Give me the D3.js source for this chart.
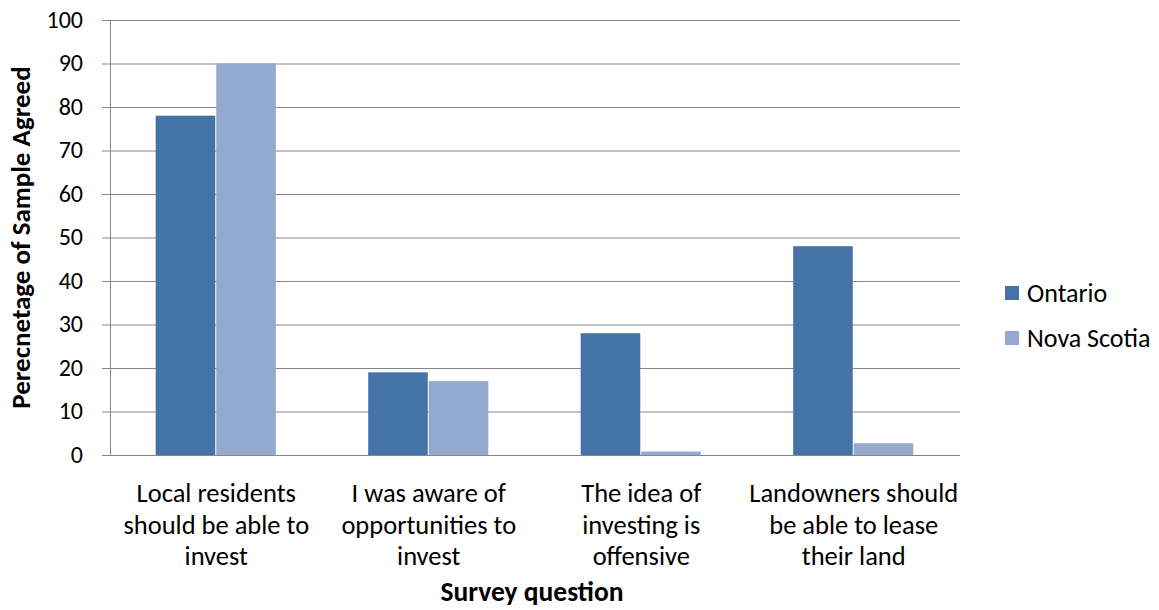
<!DOCTYPE html>
<html>
<head>
<meta charset="utf-8">
<script src="https://cdn.jsdelivr.net/npm/d3@7"></script>
<style>
  body { margin: 0; background: #fff; }
  svg { display: block; font-family: Carlito, Calibri, "Liberation Sans Narrow", "Open Sans", sans-serif; }
</style>
</head>
<body>
<svg id="chart" width="1159" height="610"></svg>
<script>
// Survey results: share of respondents agreeing, by province
const questions = [
  ["Local residents", "should be able to", "invest"],
  ["I was aware of", "opportunities to", "invest"],
  ["The idea of", "investing is", "offensive"],
  ["Landowners should", "be able to lease", "their land"]
];
const seriesNames = ["Ontario", "Nova Scotia"];
const ontario = [78, 19, 28, 48];
const novaScotia = [90, 17, 0.8, 2.7];
const yTicks = [0, 10, 20, 30, 40, 50, 60, 70, 80, 90, 100];
const colors = ["#4572A7", "#93A9CF"];

const svg = d3.select("#chart");
const plot = { left: 110, right: 960, top: 20, bottom: 455 };

const x0 = d3.scaleBand()
  .domain(d3.range(questions.length))
  .range([plot.left, plot.right])
  .paddingInner(0.43)
  .paddingOuter(0.215);
const x1 = d3.scaleBand()
  .domain(seriesNames)
  .range([0, x0.bandwidth()])
  .padding(0);
const y = d3.scaleLinear().domain([0, 100]).range([plot.bottom, plot.top]);

// horizontal gridlines
svg.append("g")
  .selectAll("line")
  .data(yTicks)
  .join("line")
  .attr("x1", plot.left - 8)
  .attr("x2", plot.right)
  .attr("y1", d => y(d) + 0.5)
  .attr("y2", d => y(d) + 0.5)
  .attr("stroke", "#868686")
  .attr("stroke-width", 1);

// y tick labels
svg.append("g")
  .selectAll("text")
  .data(yTicks)
  .join("text")
  .attr("x", plot.left - 27)
  .attr("y", d => y(d))
  .attr("dy", "0.33em")
  .attr("text-anchor", "end")
  .attr("font-size", 24)
  .attr("fill", "#000")
  .text(d => d);

// bars
const series = [ontario, novaScotia];
const groups = svg.append("g")
  .selectAll("g")
  .data(questions.map((q, i) => i))
  .join("g")
  .attr("transform", i => `translate(${x0(i)},0)`);
groups.selectAll("rect")
  .data(i => seriesNames.map((name, s) => ({ name, value: series[s][i], s })))
  .join("rect")
  .attr("x", d => x1(d.name))
  .attr("width", x1.bandwidth() - 1)
  .attr("y", d => y(d.value))
  .attr("height", d => y(0) - y(d.value))
  .attr("fill", d => colors[d.s]);

// y axis line
svg.append("line")
  .attr("x1", plot.left + 0.5).attr("x2", plot.left + 0.5)
  .attr("y1", plot.top).attr("y2", plot.bottom + 0.5)
  .attr("stroke", "#868686");
// baseline
svg.append("line")
  .attr("x1", plot.left - 8).attr("x2", plot.right)
  .attr("y1", plot.bottom + 0.5).attr("y2", plot.bottom + 0.5)
  .attr("stroke", "#868686");

// category labels
const cat = svg.append("g")
  .selectAll("text")
  .data(questions)
  .join("text")
  .attr("text-anchor", "middle")
  .attr("font-size", 26.5)
  .attr("fill", "#000")
  .attr("x", (d, i) => x0(i) + x0.bandwidth() / 2)
  .attr("y", 502);
cat.selectAll("tspan")
  .data(d => d)
  .join("tspan")
  .attr("x", function() { return d3.select(this.parentNode).attr("x"); })
  .attr("dy", (d, i) => i === 0 ? 0 : 31.5)
  .text(d => d);

// axis titles
svg.append("text")
  .attr("x", 532)
  .attr("y", 601)
  .attr("text-anchor", "middle")
  .attr("font-size", 27.5)
  .attr("font-weight", "bold")
  .text("Survey question");

svg.append("text")
  .attr("transform", `translate(30,${(plot.top + plot.bottom) / 2}) rotate(-90)`)
  .attr("text-anchor", "middle")
  .attr("font-size", 27)
  .attr("font-weight", "bold")
  .text("Perecnetage of Sample Agreed");

// legend
const legend = svg.append("g")
  .selectAll("g")
  .data(seriesNames)
  .join("g")
  .attr("transform", (d, i) => `translate(1005,${286 + i * 45})`);
legend.append("rect")
  .attr("width", 14).attr("height", 14)
  .attr("fill", (d, i) => colors[i]);
legend.append("text")
  .attr("x", 22).attr("y", 7)
  .attr("dy", "0.35em")
  .attr("font-size", 26)
  .text(d => d);
</script>
</body>
</html>
